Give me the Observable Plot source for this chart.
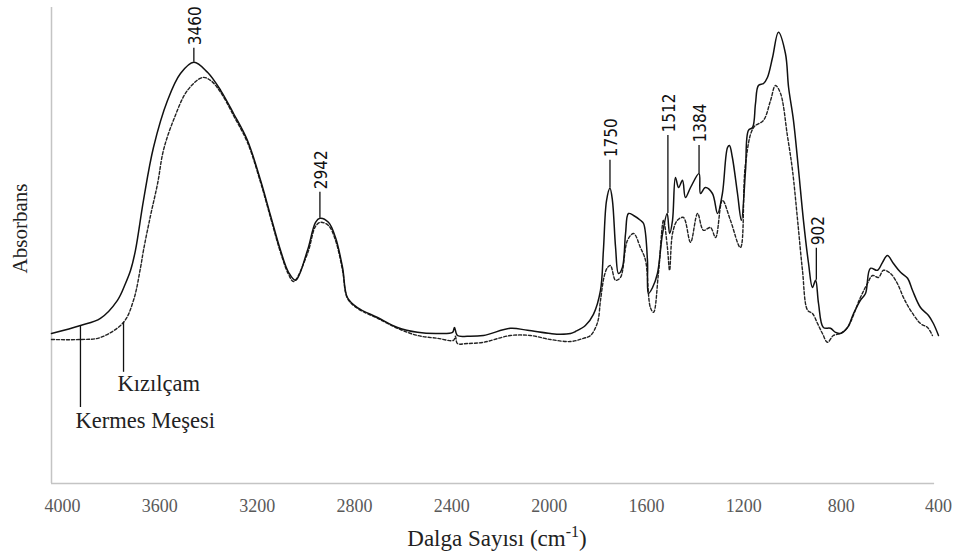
<!DOCTYPE html>
<html>
<head>
<meta charset="utf-8">
<script src="https://cdn.jsdelivr.net/npm/d3@7"></script>
<script src="https://cdn.jsdelivr.net/npm/@observablehq/plot@0.6"></script>
<style>
  body { margin: 0; background: #fff; }
  #xtitle { width: 956px; height: 35px; line-height: 34px; text-align: center; font-family: 'Liberation Serif', 'Times New Roman', serif; font-size: 23px; color: #222; position: relative; left: 19px; }
  #xtitle sup { font-size: 16px; line-height: 0; }
</style>
</head>
<body>
<div id="chart"></div>
<div id="xtitle">Dalga Sayısı (cm<sup>-1</sup>)</div>
<script>
// Kermes Meşesi (solid) : wavenumber (cm-1), absorbance (arb.)
const kermesWave = [4045,3926,3844,3774,3741,3720,3700,3667,3626,3568,3515,3460,3404,3350,3297,3240,3186,3145,3104,3071,3042,2993,2960,2942,2907,2878,2849,2829,2788,2705,2623,2541,2459,2397,2389,2377,2336,2270,2159,2089,1995,1953,1912,1892,1851,1818,1789,1777,1764,1750,1740,1727,1715,1699,1686,1674,1653,1625,1612,1596,1592,1575,1555,1534,1515,1505,1493,1481,1468,1452,1440,1419,1384,1378,1358,1329,1308,1288,1267,1259,1247,1226,1210,1193,1181,1164,1152,1140,1119,1103,1082,1058,1029,1016,996,975,955,934,918,905,893,873,844,823,803,774,749,721,700,680,651,630,610,585,556,527,507,474,441,421,400];
const kermesAbs  = [.375,.395,.413,.458,.5,.533,.583,.708,.84,.958,1.025,1.053,1.028,.983,.925,.858,.758,.67,.583,.528,.508,.583,.653,.663,.653,.615,.54,.465,.44,.415,.39,.378,.375,.378,.39,.37,.368,.37,.388,.383,.375,.373,.375,.38,.395,.423,.483,.583,.708,.738,.708,.59,.525,.54,.625,.675,.67,.658,.65,.558,.475,.49,.525,.625,.675,.625,.658,.765,.74,.758,.715,.74,.775,.725,.74,.725,.675,.725,.84,.845,.815,.725,.658,.783,.883,.89,.95,.995,1.0,1.015,1.065,1.128,1.075,.99,.908,.783,.658,.55,.49,.508,.45,.39,.388,.378,.375,.39,.425,.458,.475,.538,.533,.553,.57,.55,.528,.513,.483,.44,.42,.4,.37];

// Kızılçam (dashed)
const kizilWave = [4045,3926,3844,3749,3708,3679,3667,3638,3609,3585,3544,3486,3424,3392,3350,3297,3240,3186,3145,3104,3071,3050,2993,2960,2940,2907,2878,2849,2829,2788,2705,2623,2541,2459,2393,2385,2377,2336,2270,2159,2077,1995,1912,1859,1830,1801,1789,1773,1760,1748,1727,1707,1678,1653,1625,1604,1584,1571,1551,1530,1514,1505,1493,1473,1448,1419,1390,1366,1337,1316,1288,1255,1214,1193,1160,1119,1090,1070,1049,1021,1000,979,959,938,918,897,877,856,832,803,774,721,692,671,647,626,597,569,544,515,474,445,425];
const kizilAbs  = [.36,.36,.365,.403,.458,.54,.583,.67,.75,.833,.908,.983,1.015,1.008,.978,.92,.853,.753,.665,.578,.523,.505,.575,.643,.653,.645,.608,.533,.463,.438,.413,.388,.37,.363,.358,.368,.35,.35,.353,.37,.37,.36,.355,.363,.37,.403,.458,.52,.54,.545,.508,.515,.608,.625,.59,.558,.44,.428,.525,.658,.59,.533,.625,.658,.665,.603,.675,.633,.64,.615,.708,.658,.59,.8,.89,.908,.958,.995,.975,.87,.783,.658,.533,.433,.425,.4,.375,.353,.37,.375,.39,.465,.5,.52,.515,.533,.525,.5,.465,.433,.4,.39,.37];

// peak annotations
const peakWave   = [3460, 2942, 1750, 1512, 1384, 902];
const peakLabel  = ["3460", "2942", "1750", "1512", "1384", "902"];
const peakTop    = [1.088, .728, .808, .87, .845, .588];
const peakBottom = [1.053, .663, .738, .675, .775, .508];

// series name annotations
const seriesName   = ["Kermes Meşesi", "Kızılçam"];
const seriesWave   = [3926, 3749];
const seriesTop    = [.395, .403];
const seriesBottom = [.19, .278];
const seriesTextWave = [3946, 3774];
const seriesTextAbs  = [.158, .25];

const xTicks = [4000, 3600, 3200, 2800, 2400, 2000, 1600, 1200, 800, 400];
const yLabel = "Absorbans";

const kermes = kermesWave.map((w, i) => ({w, a: kermesAbs[i]}));
const kizil = kizilWave.map((w, i) => ({w, a: kizilAbs[i]}));
const peaks = peakWave.map((w, i) => ({w, label: peakLabel[i], top: peakTop[i], bottom: peakBottom[i]}));
const names = seriesName.map((n, i) => ({n, w: seriesWave[i], top: seriesTop[i], bottom: seriesBottom[i], tw: seriesTextWave[i], ta: seriesTextAbs[i]}));

const serif = "'Liberation Serif', 'Times New Roman', serif";

const chart = Plot.plot({
  width: 956,
  height: 522,
  marginLeft: 51,
  marginRight: 18,
  marginTop: 7,
  marginBottom: 39,
  style: {fontFamily: serif, background: "#fff"},
  x: {domain: [4045, 400], label: null},
  y: {domain: [0, 1.19], axis: null},
  marks: [
    Plot.ruleX([4045], {stroke: "#c4c4c4", strokeWidth: 1.5}),
    Plot.ruleY([0], {x1: 4045, x2: 416, stroke: "#c4c4c4", strokeWidth: 1.5}),
    Plot.axisX({ticks: xTicks, tickSize: 0, tickPadding: 16, fontSize: 18, fontFamily: serif, fill: "#595959", tickFormat: d => String(d), label: null}),
    Plot.text([yLabel], {frameAnchor: "left", text: d => d, rotate: -90, textAnchor: "middle", dx: -31, dy: -17, fontSize: 21, fontFamily: serif, fill: "#222"}),
    Plot.line(kizil, {x: "w", y: "a", curve: "catmull-rom", stroke: "#222", strokeWidth: 1.4, strokeDasharray: "3,2"}),
    Plot.line(kermes, {x: "w", y: "a", curve: "catmull-rom", stroke: "#111", strokeWidth: 1.5}),
    Plot.ruleX(peaks, {x: "w", y1: "bottom", y2: "top", stroke: "#111", strokeWidth: 1.3}),
    Plot.text(peaks, {x: "w", y: "top", text: "label", rotate: -90, textAnchor: "start", dy: -3, dx: 2, fontSize: 17, fontFamily: "'Liberation Sans Narrow', 'DejaVu Sans Condensed', sans-serif", fill: "#111"}),
    Plot.ruleX(names, {x: "w", y1: "bottom", y2: "top", stroke: "#111", strokeWidth: 1.3}),
    Plot.text(names, {x: "tw", y: "ta", text: "n", textAnchor: "start", fontSize: 22.5, fontFamily: serif, fill: "#222"})
  ]
});
document.getElementById("chart").appendChild(chart);
</script>
</body>
</html>
